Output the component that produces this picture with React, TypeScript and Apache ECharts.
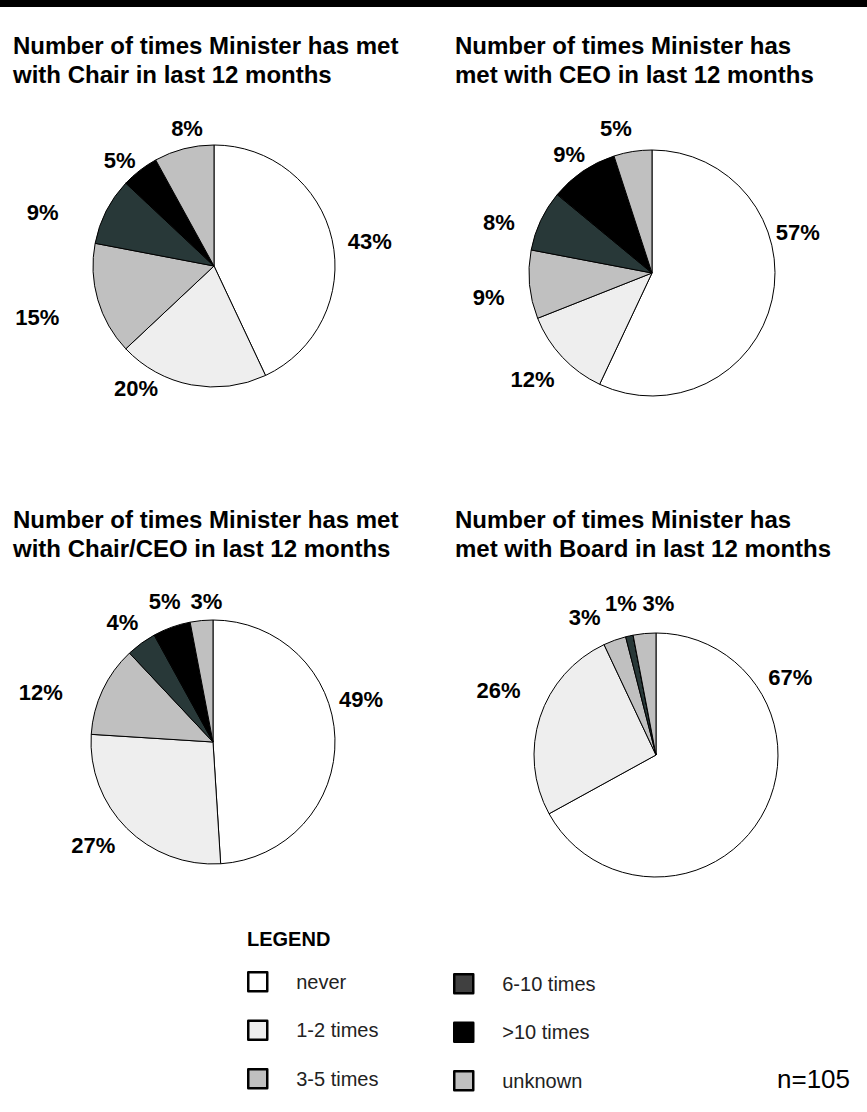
import React, { useEffect, useRef } from "react";
import * as echarts from "echarts";

const categories = ["never", "1-2 times", "3-5 times", "6-10 times", ">10 times", "unknown"];
const chairValues = [43, 20, 15, 9, 5, 8];
const ceoValues = [57, 12, 9, 8, 9, 5];
const chairCeoValues = [49, 27, 12, 4, 5, 3];
const boardValues = [67, 26, 3, 1, 0, 3];
const titles = [
  "Number of times Minister has met\nwith Chair in last 12 months",
  "Number of times Minister has\nmet with CEO in last 12 months",
  "Number of times Minister has met\nwith Chair/CEO in last 12 months",
  "Number of times Minister has\nmet with Board in last 12 months",
];
const legendTitle = "LEGEND";
const sampleNote = "n=105";

const sliceColors = ["#ffffff", "#eeeeee", "#c0c0c0", "#283838", "#000000", "#c0c0c0"];
const legendColors = ["#ffffff", "#eeeeee", "#c0c0c0", "#404040", "#000000", "#c0c0c0"];

// label nudges (dx, dy) per pie / slice, to mimic the original's label placement
const labelNudges = [
  [[-5, 5], [-22, -8], [-18, 14], [-28, 7], [12, 0], [31, -9]],
  [[-17, -70], [10, 14], [-4, 12], [-6, 7], [18, -7], [10, -11]],
  [[-17, -38], [6, 9], [-20, 8], [13, -11], [22, -14], [31, -7]],
  [[-12, -146], [1, -23], [-1, -11], [19, -21], [0, 0], [40, -18]],
];

const FONT = "'Liberation Sans', Arial, Helvetica, sans-serif";

export default function App() {
  const ref = useRef<HTMLDivElement>(null);
  useEffect(() => {
    if (!ref.current) return;
    const chart = echarts.init(ref.current, null, { renderer: "svg" });
    const allValues = [chairValues, ceoValues, chairCeoValues, boardValues];
    const centers = [
      [214, 266],
      [652, 273],
      [213, 742],
      [656, 755],
    ];
    const radii = [121, 123, 122, 122];
    const titlePos = [
      [13, 31],
      [455, 31],
      [13, 505],
      [455, 505],
    ];
    const series = allValues.map((vals, i) => ({
      type: "pie",
      center: centers[i],
      radius: radii[i],
      startAngle: 90,
      clockwise: true,
      avoidLabelOverlap: false,
      animation: false,
      silent: true,
      data: vals.map((v, j) => ({
        name: categories[j],
        value: v,
        itemStyle: { color: sliceColors[j] },
      })),
      itemStyle: { borderColor: "#000", borderWidth: 1 },
      label: {
        show: true,
        position: "outside",
        formatter: (p: any) => (p.value > 0 ? p.value + "%" : ""),
        fontFamily: FONT,
        fontSize: 22,
        fontWeight: "bold",
        color: "#000",
      },
      labelLine: { show: false, length: 12, length2: 4 },
      labelLayout: (p: any) => {
        const n = labelNudges[i][p.dataIndex] || [0, 0];
        return { dx: n[0], dy: n[1] };
      },
    }));
    const legendItems = (idx: number[]) =>
      idx.map((j) => ({ name: categories[j], itemStyle: { color: legendColors[j] } }));
    const legendCommon = {
      orient: "vertical",
      icon: "rect",
      itemWidth: 19,
      itemHeight: 19,
      itemGap: 27,
      padding: 0,
      selectedMode: false,
      itemStyle: { borderColor: "#000", borderWidth: 2.5 },
      textStyle: {
        fontFamily: FONT,
        fontSize: 20,
        lineHeight: 19,
        color: "#222",
        padding: [0, 0, 0, 24],
      },
    };
    chart.setOption({
      animation: false,
      backgroundColor: "#fff",
      title: [
        ...titles.map((t, i) => ({
          text: t,
          left: titlePos[i][0],
          top: titlePos[i][1],
          padding: 0,
          textStyle: {
            fontFamily: FONT,
            fontSize: 24,
            fontWeight: "bold",
            color: "#000",
            lineHeight: 29,
          },
        })),
        {
          text: legendTitle,
          left: 247,
          top: 929,
          padding: 0,
          textStyle: { fontFamily: FONT, fontSize: 20, fontWeight: "bold", color: "#000" },
        },
        {
          text: sampleNote,
          left: 777,
          top: 1066,
          padding: 0,
          textStyle: { fontFamily: FONT, fontSize: 26, fontWeight: "normal", color: "#000" },
        },
      ],
      legend: [
        { ...legendCommon, left: 247, top: 971, data: legendItems([0, 1, 2]) },
        { ...legendCommon, left: 453, top: 973, data: legendItems([3, 4, 5]) },
      ],
      graphic: [
        { type: "rect", shape: { x: 0, y: 0, width: 867, height: 7 }, style: { fill: "#000" } },
      ],
      series,
    });
    return () => chart.dispose();
  }, []);
  return (
    <div
      ref={ref}
      style={{ position: "absolute", left: 0, top: 0, width: 867, height: 1112 }}
    />
  );
}
